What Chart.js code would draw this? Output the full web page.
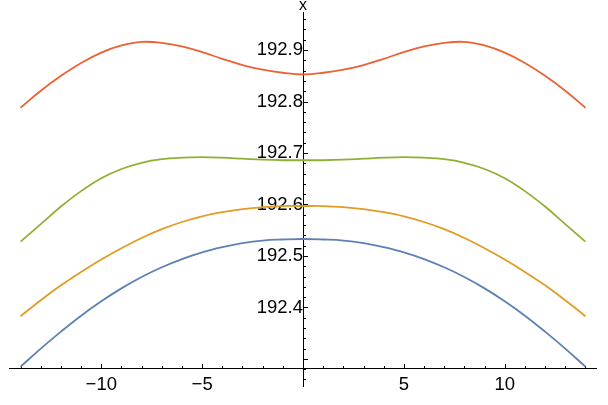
<!DOCTYPE html>
<html><head><meta charset="utf-8">
<script src="https://cdn.jsdelivr.net/npm/chart.js@4.4.1/dist/chart.umd.min.js"></script>
<style>html,body{margin:0;padding:0;background:#fff}canvas{display:block}</style>
</head><body>
<canvas id="c" width="608" height="405"></canvas>
<script>
const xValues = [-14,-13,-12,-11,-10,-9,-8,-7,-6,-5,-4,-3,-2,-1,0,1,2,3,4,5,6,7,8,9,10,11,12,13,14];
const blueValues = [192.285,192.320,192.353,192.384,192.412,192.437,192.459,192.478,192.494,192.507,192.517,192.525,192.530,192.532,192.533,192.532,192.530,192.525,192.517,192.507,192.494,192.478,192.459,192.437,192.412,192.384,192.353,192.320,192.285];
const orangeValues = [192.383,192.414,192.443,192.469,192.493,192.515,192.535,192.552,192.566,192.577,192.585,192.591,192.595,192.597,192.597,192.597,192.595,192.591,192.585,192.577,192.566,192.552,192.535,192.515,192.493,192.469,192.443,192.414,192.383];
const greenValues = [192.528,192.562,192.596,192.626,192.651,192.669,192.681,192.688,192.691,192.692,192.691,192.689,192.687,192.686,192.686,192.686,192.687,192.689,192.691,192.692,192.691,192.688,192.681,192.669,192.651,192.626,192.596,192.562,192.528];
const redValues = [192.788,192.821,192.850,192.875,192.895,192.909,192.916,192.914,192.907,192.896,192.883,192.871,192.862,192.856,192.853,192.856,192.862,192.871,192.883,192.896,192.907,192.914,192.916,192.909,192.895,192.875,192.850,192.821,192.788];

const xTickValues = [-10,-5,5,10];
const xTickLabels = ['\u221210','\u22125','5','10'];
const xMinorTickValues = [-14,-13,-12,-11,-10,-9,-8,-7,-6,-5,-4,-3,-2,-1,1,2,3,4,5,6,7,8,9,10,11,12,13,14];
const yTickValues = [192.4,192.5,192.6,192.7,192.8,192.9];
const yTickLabels = ['192.4','192.5','192.6','192.7','192.8','192.9'];
const yMajorTickValues = [192.3,192.4,192.5,192.6,192.7,192.8,192.9];
const yMinorTickValues = [192.26,192.28,192.32,192.34,192.36,192.38,192.42,192.44,192.46,192.48,192.52,192.54,192.56,192.58,192.62,192.64,192.66,192.68,192.72,192.74,192.76,192.78,192.82,192.84,192.86,192.88,192.92,192.94,192.96];
const xAxisLabel = 'n';
const yAxisLabel = 'x';

const X_MIN = -14.56, X_MAX = 14.56, Y_MIN = 192.246, Y_MAX = 192.974, X_AXIS_AT = 192.282;
const FONT = "'Liberation Sans', Arial, sans-serif";

const series = [
  {values: blueValues, color: '#5E81B5'},
  {values: orangeValues, color: '#E19C24'},
  {values: greenValues, color: '#8FB032'},
  {values: redValues, color: '#EB6235'}
];

const axisDecor = {
  id: 'axisDecor',
  beforeDatasetsDraw(chart) {
    const {ctx, scales: {x, y}} = chart;
    const y0 = Math.round(y.getPixelForValue(X_AXIS_AT)) + 0.5;
    const x0 = Math.round(x.getPixelForValue(0)) + 0.5;
    ctx.save();
    ctx.strokeStyle = '#000';
    ctx.lineWidth = 1;
    ctx.beginPath();
    xMinorTickValues.forEach(v => {
      const px = Math.round(x.getPixelForValue(v)) + 0.5;
      const len = xTickValues.includes(v) ? 4.5 : 2.5;
      ctx.moveTo(px, y0); ctx.lineTo(px, y0 - len);
    });
    yMajorTickValues.forEach(v => {
      const py = Math.round(y.getPixelForValue(v)) + 0.5;
      ctx.moveTo(x0, py); ctx.lineTo(x0 + 4.5, py);
    });
    yMinorTickValues.forEach(v => {
      const py = Math.round(y.getPixelForValue(v)) + 0.5;
      ctx.moveTo(x0, py); ctx.lineTo(x0 + 2.5, py);
    });
    ctx.stroke();
    ctx.restore();
  },
  afterDraw(chart) {
    const {ctx, scales: {x, y}} = chart;
    ctx.save();
    ctx.fillStyle = '#000';
    ctx.font = '16px ' + FONT;
    ctx.textAlign = 'center';
    ctx.textBaseline = 'alphabetic';
    ctx.fillText(yAxisLabel, x.getPixelForValue(0), 10);
    ctx.textAlign = 'left';
    ctx.fillText(xAxisLabel, 607, y.getPixelForValue(X_AXIS_AT) + 6);
    ctx.restore();
  }
};

new Chart(document.getElementById('c'), {
  type: 'line',
  data: {
    datasets: series.map(s => ({
      data: xValues.map((xv, i) => ({x: xv, y: s.values[i]})),
      borderColor: s.color,
      borderWidth: 1.8,
      pointRadius: 0,
      fill: false,
      tension: 0.4
    }))
  },
  options: {
    responsive: false,
    animation: false,
    devicePixelRatio: 1,
    layout: {padding: {left: 9.3, right: 11.3, top: 12, bottom: 18.3}},
    plugins: {legend: {display: false}, tooltip: {enabled: false}, title: {display: false}},
    scales: {
      x: {
        type: 'linear', min: X_MIN, max: X_MAX,
        position: {y: X_AXIS_AT},
        grid: {display: false, drawTicks: false},
        border: {display: true, color: '#000', width: 1},
        afterBuildTicks: s => { s.ticks = xTickValues.map(v => ({value: v})); },
        afterFit: s => { s.paddingLeft = 0; s.paddingRight = 0; s.paddingTop = 0; s.paddingBottom = 0; },
        ticks: {
          autoSkip: false, maxRotation: 0, color: '#000', padding: 6,
          font: {family: FONT, size: 18.5},
          callback: v => xTickLabels[xTickValues.indexOf(v)]
        }
      },
      y: {
        type: 'linear', min: Y_MIN, max: Y_MAX,
        position: {x: 0},
        grid: {display: false, drawTicks: false},
        border: {display: true, color: '#000', width: 1},
        afterBuildTicks: s => { s.ticks = yTickValues.map(v => ({value: v})); },
        afterFit: s => { s.paddingLeft = 0; s.paddingRight = 0; s.paddingTop = 0; s.paddingBottom = 0; },
        ticks: {
          autoSkip: false, color: '#000', padding: 4,
          font: {family: FONT, size: 18.5},
          callback: (v, i) => yTickLabels[i]
        }
      }
    }
  },
  plugins: [axisDecor]
});
</script>
</body></html>
